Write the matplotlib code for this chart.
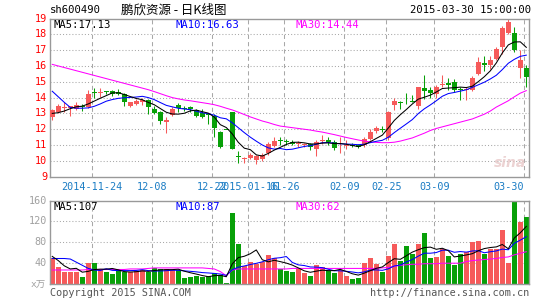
import matplotlib
matplotlib.use("Agg")
import matplotlib.pyplot as plt
import numpy as np

# ---------------- data ----------------
date_idx = [7, 17, 27, 33, 39, 49, 56, 64, 79]
date_labels = ['2014-11-24', '12-08', '12-22', '2015-01-16', '01-26',
               '02-09', '02-25', '03-09', '03-30']

opens = [12.8, 13.1, 13.35, 13.35, 13.3, 13.5, 13.4, 14.35, 14.3, 14.4,
         14.4, 14.35, 14.25, 13.5, 13.62, 13.75, 13.82, 13.3, 13.1, 12.45,
         12.9, 13.55, 13.35, 13.4, 13.2, 13.0, 12.98, 12.85, 11.8, 11.94,
         13.1, 10.3, 10.15, 10.2, 10.05, 10.15, 10.52, 10.95, 11.3, 11.25,
         11.22, 11.05, 11.0, 11.05, 10.72, 11.25, 11.35, 11.22, 10.85, 10.95,
         11.0, 11.0, 11.0, 11.4, 11.88, 12.0, 11.45, 13.55, 13.68, 13.72,
         13.75, 13.45, 14.6, 14.5, 14.2, 14.8, 14.9, 15.0, 14.55, 14.5,
         14.5, 15.5, 16.2, 16.05, 16.45, 17.2, 18.1, 18.1, 15.87, 15.85]
highs = [13.25, 13.6, 13.7, 13.5, 13.7, 13.6, 14.5, 14.6, 14.6, 14.42,
         14.45, 14.55, 14.3, 13.75, 13.9, 13.95, 13.9, 13.45, 13.15, 12.8,
         13.4, 13.65, 13.45, 13.45, 13.3, 13.3, 13.0, 12.95, 11.9, 11.94,
         13.1, 10.6, 10.25, 10.5, 10.4, 10.5, 11.2, 11.5, 11.5, 11.4,
         11.35, 11.25, 11.15, 11.1, 11.35, 11.65, 11.5, 11.3, 11.5, 11.3,
         11.1, 11.05, 11.5, 12.0, 12.2, 12.2, 13.15, 14.0, 13.8, 14.3,
         14.15, 14.7, 15.45, 14.7, 14.8, 15.4, 15.25, 15.15, 14.7, 14.7,
         15.35, 16.55, 16.65, 16.6, 17.2, 18.5, 19.0, 18.45, 17.0, 16.05]
lows = [12.6, 13.05, 13.1, 12.85, 13.2, 13.15, 13.35, 14.0, 14.05, 14.2,
        14.1, 14.15, 13.5, 13.42, 13.55, 13.55, 12.95, 12.95, 12.3, 11.75,
        12.85, 13.1, 13.15, 13.1, 12.8, 12.7, 12.3, 11.5, 10.8, 11.94,
        10.78, 9.85, 9.85, 10.1, 9.78, 10.0, 10.35, 10.85, 11.0, 11.0,
        10.98, 10.85, 10.85, 10.7, 10.28, 11.05, 11.0, 10.7, 10.5, 10.78,
        10.85, 10.8, 10.9, 11.3, 11.78, 11.85, 11.35, 13.2, 13.25, 13.6,
        13.7, 13.3, 13.9, 13.95, 13.95, 14.7, 14.5, 14.35, 13.85, 13.85,
        14.4, 15.4, 15.7, 15.8, 16.4, 16.75, 18.0, 16.9, 15.25, 14.7]
closes = [13.2, 13.5, 13.4, 13.45, 13.55, 13.4, 14.2, 14.3, 14.35, 14.38,
          14.25, 14.25, 13.75, 13.7, 13.78, 13.85, 13.4, 13.02, 12.5, 12.6,
          13.3, 13.35, 13.3, 13.25, 12.85, 12.8, 12.9, 12.05, 10.85, 11.94,
          10.78, 10.25, 10.2, 10.38, 10.3, 10.4, 11.08, 11.25, 11.25, 11.2,
          11.08, 11.12, 11.05, 10.9, 11.2, 11.35, 11.2, 10.82, 10.9, 11.0,
          10.95, 10.85, 11.4, 11.85, 12.05, 11.98, 13.1, 13.8, 13.65, 13.7,
          13.72, 14.65, 14.4, 14.3, 14.7, 14.82, 14.8, 14.5, 14.5, 14.55,
          15.25, 16.25, 16.05, 16.35, 17.05, 18.4, 18.8, 16.98, 16.4, 15.3]
# candle colour (1 = up/red, 0 = down/green) as shown in the picture
up = [1, 1, 1, 1, 1, 0, 1, 0, 1, 0, 0, 0, 0, 1, 1, 1, 0, 0, 0, 1,
      1, 0, 0, 0, 0, 0, 0, 0, 0, 0, 0, 0, 1, 1, 1, 1, 1, 1, 0, 0,
      0, 1, 1, 0, 1, 1, 0, 0, 1, 1, 0, 0, 1, 1, 1, 0, 1, 1, 0, 0,
      0, 1, 0, 0, 1, 1, 0, 0, 0, 1, 1, 1, 0, 1, 1, 1, 1, 0, 1, 0]

# moving averages of price: first values, the rest computed
ma5_head = [13.0, 13.05, 13.15, 13.3]
ma10_head = [14.4, 14.05, 13.7, 13.38, 13.33, 13.33, 13.35, 13.45, 13.6]
ma30 = [16.1, 16.0, 15.9, 15.8, 15.7, 15.6, 15.5, 15.4, 15.3, 15.2,
        15.1, 15.0, 14.9, 14.8, 14.7, 14.6, 14.5, 14.38, 14.25, 14.12,
        14.0, 13.92, 13.85, 13.8, 13.74, 13.68, 13.62, 13.55, 13.45, 13.33,
        13.22, 13.08, 12.93, 12.78, 12.65, 12.52, 12.42, 12.3, 12.2, 12.15,
        12.1, 12.05, 12.0, 11.95, 11.88, 11.82, 11.74, 11.66, 11.57, 11.48,
        11.4, 11.32, 11.25, 11.2, 11.17, 11.15, 11.15, 11.18, 11.25, 11.35,
        11.45, 11.6, 11.75, 11.92, 12.05, 12.15, 12.25, 12.35, 12.45, 12.55,
        12.65, 12.8, 12.95, 13.15, 13.4, 13.6, 13.8, 14.05, 14.28, 14.44]

volumes = [50, 32, 23, 23, 23, 13, 40, 40, 27, 23,
           19.5, 27, 23, 23, 26, 27, 23, 30.5, 29, 29,
           27, 27, 11.7, 14.3, 16, 13, 16, 21, 18, 2.5,
           136, 76, 34, 42, 39, 42, 56, 49, 29, 25,
           23, 29, 21, 15, 36, 32, 25, 21, 27, 16,
           10, 12, 40, 50, 39, 23, 54, 77, 44, 73,
           58, 77, 97, 49, 52, 68, 54, 37, 58, 62,
           80, 82, 58, 68, 68, 103, 41, 161, 118, 129]
vma5_head = [53, 45, 35, 29]
vma10_head = [49, 49, 49, 48, 42, 36, 30, 27, 26]
vma30 = [27, 27, 27, 27, 27, 27, 28, 28, 28, 28,
         28, 28, 28, 29, 29, 29, 30, 31, 31, 31,
         31, 31, 31, 31, 31, 31, 30, 29, 24, 16,
         27, 29, 29, 29, 29, 29, 29, 29, 29, 29,
         30, 30, 30, 30, 30, 30, 30, 30, 30, 30,
         30, 30, 30, 30, 30, 31, 32, 34, 36, 37,
         38, 38, 39, 39, 39, 40, 40, 40, 40, 43,
         45, 46, 47, 48, 49, 51, 52, 56, 59, 62]

ma_texts = ['MA5:17.13', 'MA10:16.63', 'MA30:14.44']
vma_texts = ['MA5:107', 'MA10:87', 'MA30:62']


def rolling(values, n, head):
    v = np.asarray(values, dtype=float)
    out = list(head)
    for i in range(len(head), len(v)):
        out.append(v[i - n + 1:i + 1].mean())
    return np.array(out)


ma5 = rolling(closes, 5, ma5_head)
ma10 = rolling(closes, 10, ma10_head)
vma5 = rolling(volumes, 5, vma5_head)
vma10 = rolling(volumes, 10, vma10_head)

# ---------------- style ----------------
W, H = 545, 300
RED = '#f65a5a'
GREEN = '#08a008'
GRID = '#a8a8a8'
SPINE = '#999999'
MONO = ['DejaVu Sans Mono', 'Noto Sans CJK SC']
LW = 0.75

fig = plt.figure(figsize=(W / 100, H / 100), dpi=100)
fig.patch.set_facecolor('white')

X0, X1 = 50, 529
P_TOP, P_BOT = 18.5, 176.7
V_TOP, V_BOT = 200.5, 284.1


def ax_at(top, bot):
    return fig.add_axes([X0 / W, 1 - bot / H, (X1 - X0) / W, (bot - top) / H])


def ftxt(x, y, s, **kw):
    kw.setdefault('family', MONO)
    fig.text(x / W, 1 - y / H, s, **kw)


axp = ax_at(P_TOP, P_BOT)
axv = ax_at(V_TOP, V_BOT)

n = len(closes)
x = np.arange(n)
xlim = (-0.38, 79.45)

for ax in (axp, axv):
    ax.set_xlim(*xlim)
    ax.set_xticks([])
    ax.set_yticks([])
    for s in ax.spines.values():
        s.set_color(SPINE)
        s.set_linewidth(1.0)
    for d in date_idx:
        ax.axvline(d - 0.33, color=GRID, lw=LW, ls=(0, (4, 3)), zorder=0)

axp.set_ylim(9, 19)
axv.set_ylim(0, 160)
for p in range(10, 19):
    axp.axhline(p, color=GRID, lw=LW, ls=(0, (1, 2)), zorder=0)
for v in (40, 80, 120):
    axv.axhline(v, color=GRID, lw=LW, ls=(0, (1, 2)), zorder=0)

# candles
o = np.array(opens); c = np.array(closes)
hi = np.array(highs); lo = np.array(lows)
cols = [RED if u else GREEN for u in up]
body_bot = np.minimum(o, c)
body_h = np.maximum(np.abs(c - o), 0.05)
axp.vlines(x, lo, hi, colors=cols, lw=LW, zorder=2)
axp.bar(x, body_h, bottom=body_bot, width=0.8, color=cols, lw=0, zorder=3)

axp.plot(x, ma30, color='#ff00ff', lw=LW, zorder=4)
axp.plot(x, ma10, color='#0000ff', lw=LW, zorder=4)
axp.plot(x, ma5, color='black', lw=LW, zorder=4)

# volume
axv.bar(x, volumes, width=0.8, color=cols, lw=0, zorder=2)
axv.plot(x, vma30, color='#ff00ff', lw=LW, zorder=4)
axv.plot(x, vma10, color='#0000ff', lw=LW, zorder=4)
axv.plot(x, vma5, color='black', lw=LW, zorder=4)

FS = 7.3

# price labels
for p in range(9, 20):
    y = P_BOT - (p - 9) * (P_BOT - P_TOP) / 10
    ftxt(47, y, str(p), ha='right', va='center', color='red', fontsize=FS)

# volume labels
for v in (40, 80, 120, 160):
    y = V_BOT - v * (V_BOT - V_TOP) / 160
    ftxt(47, y, str(v), ha='right', va='center', color='#a0a0a0', fontsize=FS)
ftxt(46, 284, 'x万', ha='right', va='center', color='#a0a0a0', fontsize=FS - 0.5)

# date labels
px_per = (X1 - X0) / (xlim[1] - xlim[0])
for d, lab in zip(date_idx, date_labels):
    gx = X0 + (d - 0.33 - xlim[0]) * px_per
    ha = 'right' if d == date_idx[-1] else 'center'
    ftxt(gx, 186.5, lab, ha=ha, va='center', color='#1a7cc4', fontsize=FS)

# header
ftxt(50, 10, 'sh600490', ha='left', va='center', color='black', fontsize=FS + 0.3)
ftxt(121, 10, '鹏欣资源 - 日K线图', ha='left', va='center', color='black',
     fontsize=9, family=['Noto Sans CJK SC', 'DejaVu Sans'])
ftxt(531, 10, '2015-03-30 15:00:00', ha='right', va='center', color='black',
     fontsize=FS + 0.3)

# MA legends
for (xx, col), t in zip([(54, 'black'), (175, '#0000ff'), (295, '#ff00ff')], ma_texts):
    ftxt(xx, 24.5, t, ha='left', va='center', color=col, fontsize=FS + 0.3)
for (xx, col), t in zip([(54, 'black'), (175, '#0000ff'), (295, '#ff00ff')], vma_texts):
    ftxt(xx, 206.5, t, ha='left', va='center', color=col, fontsize=FS + 0.3)

# watermark
ftxt(510, 163, 'sina', ha='center', va='center', color='#e8c8c8', fontsize=10,
     family='DejaVu Sans', style='italic', weight='bold', alpha=0.8)

# footer
ftxt(50, 292.5, 'Copyright 2015 SINA.COM', ha='left', va='center',
     color='#555555', fontsize=FS)
ftxt(529, 292.5, 'http://finance.sina.com.cn', ha='right', va='center',
     color='#555555', fontsize=FS)

fig.savefig('out.png', dpi=100, facecolor='white')
